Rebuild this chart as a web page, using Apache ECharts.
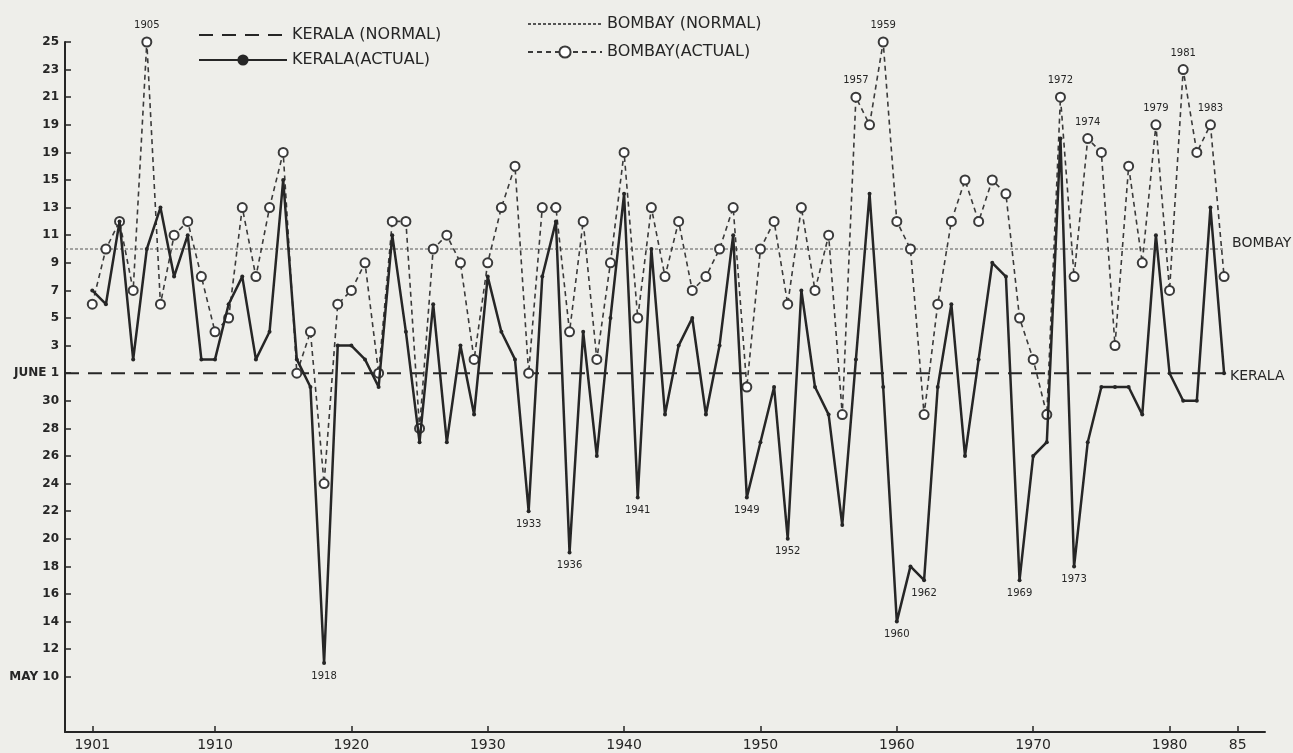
<!DOCTYPE html>
<html>
<head>
<meta charset="utf-8">
<script src="https://cdn.jsdelivr.net/npm/echarts@6/dist/echarts.min.js"></script>
<style>
html,body{margin:0;padding:0;background:#eeeeea;}
#chart{width:1293px;height:753px;}
</style>
</head>
<body>
<div id="chart"></div>
<script>
// onset dates as day counted from May 1 (May 31 = 31, June 1 = 32, June 25 = 56)
var firstYear = 1901;
var keralaActual = [38,37,43,33,41,44,39,42,33,33, 37,39,33,35,46,33,31,11,34,34,
                    33,31,42,35,27,37,27,34,29,39, 35,33,22,39,43,19,35,26,36,45,
                    23,41,29,34,36,29,34,42,23,27, 31,20,38,31,29,21,33,45,31,14,
                    18,17,31,37,26,33,40,39,17,26, 27,49,18,27,31,31,31,29,42,32,
                    30,30,44,32];
var bombayActual = [37,41,43,38,56,37,42,43,39,35, 36,44,39,44,48,32,35,24,37,38,
                    40,32,43,43,28,41,42,40,33,40, 44,47,32,44,44,35,43,33,40,48,
                    36,44,39,43,38,39,41,44,31,41, 43,37,44,38,42,29,52,50,56,43,
                    41,29,37,43,46,43,46,45,36,33, 29,52,39,49,48,34,47,40,50,38,
                    54,48,50,39];
var keralaNormal = 32;   // June 1
var bombayNormal = 41;   // June 10
var normalFrom = 1899, normalTo = 1984;

var bombayLabelYears = [1905,1957,1959,1972,1974,1979,1981,1983];
var keralaLabelYears = [1918,1933,1936,1941,1949,1952,1960,1962,1969,1973];

var xTickValues = [1901,1910,1920,1930,1940,1950,1960,1970,1980,1985];
var xTickLabels = ['1901','1910','1920','1930','1940','1950','1960','1970','1980','85'];
var yTickValues = [10,12,14,16,18,20,22,24,26,28,30,32,34,36,38,40,42,44,46,48,50,52,54,56];
var yTickLabels = ['MAY 10','12','14','16','18','20','22','24','26','28','30','JUNE 1',
                   '3','5','7','9','11','13','15','19','19','21','23','25'];

var ink = '#262626';
var font = 'DejaVu Sans';

function pts(values, labelYears, pos){
    return values.map(function(v, i){
        var yr = firstYear + i;
        var item = {value: [yr, v]};
        if (labelYears.indexOf(yr) >= 0) {
            item.label = {show: true, position: pos, formatter: String(yr),
                          fontSize: 10, fontFamily: font, color: ink, distance: 6};
        }
        return item;
    });
}

var legendText = {fontFamily: font, fontSize: 16, color: ink};

var chart = echarts.init(document.getElementById('chart'));
chart.setOption({
    backgroundColor: '#eeeeea',
    animation: false,
    grid: {left: 65, right: 28, top: 42, bottom: 21},
    legend: [
        {
            orient: 'vertical', left: 193, top: 22, itemWidth: 88, itemHeight: 14, itemGap: 9,
            data: [
                {name: 'KERALA (NORMAL)', itemStyle: {opacity: 0}},
                {name: 'KERALA(ACTUAL)'}
            ],
            textStyle: legendText
        },
        {
            orient: 'vertical', left: 522, top: 11, itemWidth: 74, itemHeight: 14, itemGap: 12,
            data: [
                {name: 'BOMBAY (NORMAL)', itemStyle: {opacity: 0}},
                {name: 'BOMBAY(ACTUAL)'}
            ],
            textStyle: legendText
        }
    ],
    xAxis: {
        type: 'value', min: 1899, max: 1987,
        axisLine: {lineStyle: {color: ink, width: 2}},
        axisTick: {inside: true, length: 6, customValues: xTickValues, lineStyle: {color: ink, width: 1.5}},
        axisLabel: {
            customValues: xTickValues,
            formatter: function(v){ return xTickLabels[xTickValues.indexOf(v)]; },
            fontFamily: font, fontSize: 14, color: ink, margin: 6
        },
        splitLine: {show: false}
    },
    yAxis: {
        type: 'value', min: 6, max: 56, interval: 2,
        axisLine: {show: true, lineStyle: {color: ink, width: 2}},
        axisTick: {show: true, inside: true, length: 6, customValues: yTickValues, lineStyle: {color: ink, width: 1.5}},
        axisLabel: {
            customValues: yTickValues,
            formatter: function(v){ return yTickLabels[yTickValues.indexOf(v)]; },
            fontFamily: font, fontSize: 12, fontWeight: 'bold', color: ink, margin: 6
        },
        splitLine: {show: false}
    },
    series: [
        {
            name: 'KERALA (NORMAL)', type: 'line', symbol: 'none',
            data: [[normalFrom, keralaNormal], [normalTo, keralaNormal]],
            itemStyle: {color: ink},
            lineStyle: {color: ink, width: 2, type: [14, 9]},
            endLabel: {show: true, formatter: 'KERALA', fontFamily: font, fontSize: 14, color: ink, distance: 6, offset: [0, 3]},
            z: 1
        },
        {
            name: 'BOMBAY (NORMAL)', type: 'line', symbol: 'none',
            data: [[normalFrom, bombayNormal], [normalTo, bombayNormal]],
            itemStyle: {color: '#555'},
            lineStyle: {color: '#555', width: 1, type: [3, 2]},
            endLabel: {show: true, formatter: 'BOMBAY', fontFamily: font, fontSize: 14, color: ink, distance: 8, offset: [0, -6]},
            z: 1
        },
        {
            name: 'KERALA(ACTUAL)', type: 'line',
            data: pts(keralaActual, keralaLabelYears, 'bottom'),
            symbol: 'circle', symbolSize: 4,
            itemStyle: {color: ink},
            lineStyle: {color: ink, width: 2.5},
            z: 3
        },
        {
            name: 'BOMBAY(ACTUAL)', type: 'line',
            data: pts(bombayActual, bombayLabelYears, 'top'),
            symbol: 'emptyCircle', symbolSize: 9,
            itemStyle: {color: '#3a3a3a', borderWidth: 1.5},
            lineStyle: {color: '#3a3a3a', width: 1.6, type: [5, 4]},
            z: 2
        }
    ]
});
</script>
</body>
</html>
